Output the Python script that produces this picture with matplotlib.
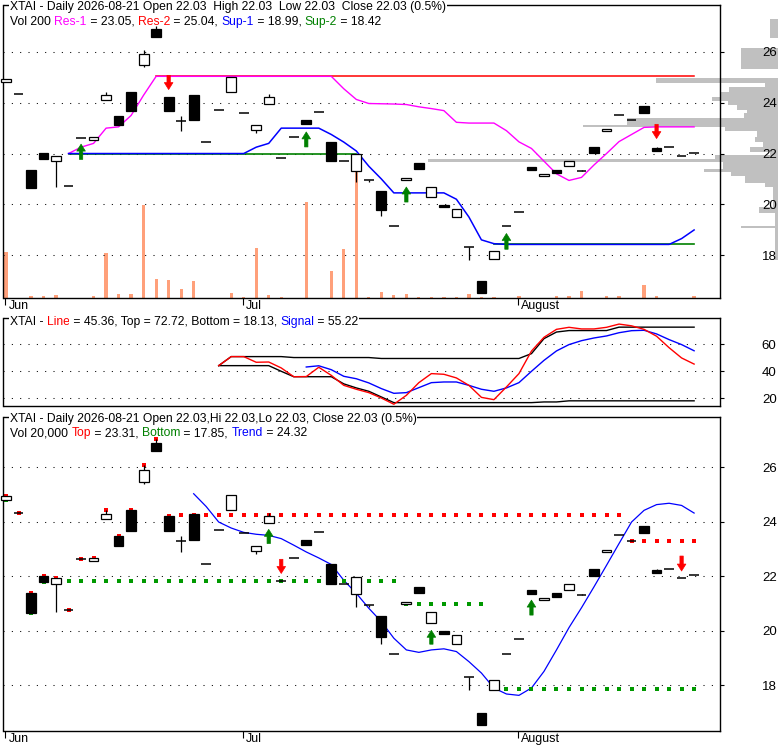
import matplotlib
matplotlib.use('Agg')
import matplotlib.pyplot as plt
import numpy as np
from matplotlib.text import Annotation
from matplotlib.transforms import blended_transform_factory, ScaledTranslation

plt.rcParams['font.family'] = ['Liberation Sans', 'DejaVu Sans']

# ---------------- data ----------------
opens  = [24.80, 24.33, 21.37, 22.02, 21.72, 20.74, 22.63, 22.54, 24.11, 23.49,
          24.44, 25.47, 26.90, 24.22, 23.29, 24.30, 22.46, 23.71, 24.44, 23.60,
          22.93, 23.97, 21.82, 22.65, 23.34, 23.64, 22.46, 21.71, 21.33, 20.95,
          20.53, 19.14, 20.96, 21.61, 20.27, 19.97, 19.50, 18.31, 16.97, 17.83,
          19.14, 19.68, 21.48, 21.12, 21.37, 21.51, 21.30, 22.25, 22.89, 23.50,
          23.31, 23.86, 22.22, 22.26, 21.92, 22.03]
highs  = [24.93, 24.33, 21.37, 22.02, 21.92, 20.74, 22.63, 22.65, 24.42, 23.49,
          24.44, 26.09, 27.04, 24.22, 23.47, 24.30, 22.46, 23.71, 25.00, 23.60,
          23.12, 24.33, 21.82, 22.65, 23.34, 23.64, 22.46, 21.71, 21.98, 20.95,
          20.53, 19.14, 21.04, 21.61, 20.67, 19.97, 19.82, 18.31, 16.97, 18.18,
          19.14, 19.68, 21.48, 21.18, 21.37, 21.70, 21.35, 22.25, 22.98, 23.50,
          23.31, 23.86, 22.27, 22.26, 21.92, 22.03]
lows   = [24.80, 24.33, 20.66, 21.79, 20.69, 20.74, 22.63, 22.54, 24.11, 23.11,
          23.66, 25.40, 26.59, 23.66, 22.89, 23.33, 22.46, 23.71, 24.44, 23.60,
          22.80, 23.97, 21.82, 22.65, 23.15, 23.64, 21.72, 21.71, 20.88, 20.87,
          19.52, 19.14, 20.96, 21.40, 20.27, 19.89, 19.50, 17.80, 16.52, 17.83,
          19.14, 19.68, 21.35, 21.12, 21.24, 21.51, 21.30, 22.01, 22.89, 23.50,
          23.31, 23.59, 22.10, 22.26, 21.92, 22.03]
closes = [24.93, 24.33, 20.66, 21.79, 21.92, 20.74, 22.63, 22.65, 24.30, 23.11,
          23.66, 25.91, 26.59, 23.66, 23.29, 23.33, 22.46, 23.71, 25.00, 23.60,
          23.12, 24.21, 21.82, 22.65, 23.15, 23.64, 21.72, 21.71, 21.98, 20.95,
          19.78, 19.14, 21.04, 21.40, 20.67, 19.89, 19.82, 18.31, 16.52, 18.18,
          19.14, 19.68, 21.35, 21.18, 21.24, 21.70, 21.30, 22.01, 22.98, 23.50,
          23.31, 23.59, 22.10, 22.26, 21.92, 22.03]
volumes = [4600, 0, 200, 200, 300, 0, 0, 200, 4500, 400,
           400, 9300, 1900, 1800, 900, 1700, 0, 0, 500, 100,
           5000, 300, 100, 0, 9600, 0, 2700, 4900, 14300, 100,
           600, 300, 400, 100, 100, 100, 100, 400, 100, 100,
           0, 200, 0, 0, 200, 200, 700, 0, 200, 200,
           0, 1300, 200, 0, 0, 200]

month_pos = [0, 19, 41]
month_labels = ['Jun', 'Jul', 'August']

# resistance / support (top panel)
res1_start = 5
res1 = [22.00, 22.25, 22.40, 23.00, 23.05, 23.50, 24.30, 25.04, 25.04, 25.04,
        25.04, 25.04, 25.04, 25.04, 25.04, 25.04, 25.04, 25.04, 25.04, 25.04,
        25.04, 25.04, 24.55, 24.13, 23.97, 23.96, 23.95, 23.93, 23.84, 23.77,
        23.69, 23.23, 23.20, 23.20, 23.20, 22.90, 22.46, 22.20, 21.70, 21.20,
        20.94, 21.06, 21.55, 22.00, 22.47, 22.75, 23.03, 23.05, 23.05, 23.05, 23.05]
res2_start, res2_end, res2_level = 12, 55, 25.04
sup1_start = 5
sup1 = [22.00, 22.00, 22.00, 22.00, 22.00, 22.00, 22.00, 22.00, 22.00, 22.00,
        22.00, 22.00, 22.00, 22.00, 22.00, 22.25, 22.40, 23.00, 23.00, 23.00,
        23.00, 22.75, 22.45, 22.10, 21.50, 21.00, 20.45, 20.45, 20.45, 20.45,
        20.45, 20.20, 19.50, 18.60, 18.45, 18.42, 18.42, 18.42, 18.42, 18.42,
        18.42, 18.42, 18.42, 18.42, 18.42, 18.42, 18.42, 18.42, 18.42, 18.65, 18.99]
sup2_segments = [(5, 28, 22.00), (39, 55, 18.42)]

top_arrows = [(6, 21.77, 22.37, 'g'), (13, 25.08, 24.52, 'r'), (24, 22.26, 22.85, 'g'),
              (32, 20.09, 20.68, 'g'), (40, 18.23, 18.85, 'g'), (52, 23.15, 22.59, 'r')]

# volume-by-price profile: (low, high, volume)
prof_lo  = [26.56, 25.32, 24.78, 24.62, 24.43, 24.21, 24.07, 23.90, 23.71, 23.58,
            23.38, 23.14, 23.05, 22.89, 22.65, 22.46, 22.26, 22.06, 21.96, 21.80,
            21.67, 21.38, 21.27, 21.10, 20.85, 20.70, 19.90, 19.65, 19.16, 19.06, 17.80]
prof_hi  = [27.28, 26.16, 24.96, 24.78, 24.62, 24.43, 24.21, 24.07, 23.90, 23.71,
            23.58, 23.38, 23.14, 23.05, 22.89, 22.65, 22.46, 22.26, 22.06, 21.96,
            21.80, 21.67, 21.38, 21.27, 21.10, 20.85, 20.70, 19.90, 19.65, 19.16, 19.06]
prof_vol = [8, 37, 122, 13, 49, 58, 66, 50, 41, 31,
            34, 151, 195, 53, 21, 23, 15, 28, 8, 63,
            350, 55, 74, 47, 33, 13, 5, 19, 3, 37, 3]

# middle panel (oscillator)
line_start = 17
line_vals = [44.2, 50.9, 50.9, 46.7, 46.9, 42.5, 36.0, 36.1, 43.0, 37.0,
             29.6, 26.7, 24.2, 20.2, 15.6, 22.2, 31.6, 38.3, 37.8, 35.1,
             29.6, 20.7, 19.0, 28.4, 38.3, 55.0, 65.2, 71.1, 72.6, 71.4,
             71.4, 72.6, 75.0, 73.7, 71.1, 66.0, 57.5, 49.9, 45.36]
osc_top = [44.2, 50.9, 50.9, 50.9, 50.9, 50.9, 50.2, 50.2, 50.2, 50.2,
           50.2, 50.2, 50.2, 49.5, 49.5, 49.5, 49.5, 49.5, 49.5, 49.5,
           49.5, 49.5, 49.5, 49.5, 49.5, 53.1, 64.2, 69.1, 70.2, 70.2,
           70.2, 70.2, 72.72, 72.72, 72.72, 72.72, 72.72, 72.72, 72.72]
osc_bottom = [44.2, 44.2, 44.2, 44.2, 44.2, 40.0, 36.0, 36.0, 36.0, 36.0,
              30.7, 27.7, 25.2, 21.0, 16.8, 16.8, 16.8, 16.8, 16.8, 16.8,
              16.8, 16.8, 16.8, 16.8, 16.8, 16.8, 17.3, 17.3, 18.13, 18.13,
              18.13, 18.13, 18.13, 18.13, 18.13, 18.13, 18.13, 18.13, 18.13]
signal_start = 24
signal_vals = [43.2, 44.1, 41.2, 36.3, 34.5, 31.4, 27.2, 23.7, 24.2, 27.9,
               31.6, 32.1, 32.1, 29.6, 26.7, 25.2, 27.7, 31.6, 40.0, 48.1,
               55.1, 59.8, 62.7, 64.7, 66.2, 68.6, 70.1, 70.4, 67.7, 63.5,
               59.8, 55.22]

# bottom panel
trend_start = 15
trend_vals = [25.03, 24.56, 23.99, 23.77, 23.61, 23.54, 23.50, 23.38, 23.14, 22.89,
              22.67, 22.43, 21.85, 21.37, 20.82, 20.33, 19.72, 19.29, 19.20, 19.29,
              19.33, 19.23, 18.86, 18.44, 17.89, 17.67, 17.62, 17.89, 18.50, 19.29,
              20.11, 20.84, 21.61, 22.40, 23.20, 23.99, 24.42, 24.63, 24.68, 24.60, 24.32]
top_segments = [(14, 49, 24.23), (50, 55, 23.31)]
bottom_segments = [(5, 31, 21.82), (32, 38, 20.96), (39, 55, 17.85)]
early_top_idx = list(range(0, 14))
early_bottom_idx = [0, 2, 3]
bot_arrows = [(21, 23.20, 23.72, 'g'), (22, 22.62, 22.10, 'r'), (34, 19.50, 20.01, 'g'),
              (42, 20.57, 21.12, 'g'), (54, 22.74, 22.19, 'r')]

# ---------------- styling ----------------
W, H = 780, 745
MAG, RED, BLUE, GREEN = '#ff00ff', '#ff0000', '#0000ff', '#008000'
DOTG = '#009900'
GREY = '#c0c0c0'
VOLC = '#ffa07a'
TXT = '#000000'
XL = (-0.2, 57.03)
PY = (16.31, 27.85)
OY = (14.3, 79.5)

fig = plt.figure(figsize=(W / 100, H / 100), dpi=100)
fig.patch.set_facecolor('white')


def rect(y0, y1, x0=3.5, x1=719.5):
    return [x0 / W, 1 - y1 / H, (x1 - x0) / W, (y1 - y0) / H]


x = np.arange(len(closes))
o = np.array(opens); h = np.array(highs); l = np.array(lows); c = np.array(closes)


def style_price_axis(ax, yt, ylim):
    ax.set_xlim(*XL)
    ax.set_ylim(*ylim)
    ax.set_facecolor('none')
    ax.set_yticks(yt)
    ax.yaxis.tick_right()
    ax.tick_params(axis='y', length=3, width=0.8, pad=27.5, labelsize=9.5,
                   direction='out', colors=TXT)
    ax.grid(axis='y', color='black', linestyle=(0, (1, 7)), linewidth=0.75)
    ax.set_axisbelow(True)
    for s in ax.spines.values():
        s.set_linewidth(1.0)
        s.set_color('black')


def month_axis(ax):
    ax.set_xticks([p - 0.08 for p in month_pos])
    ax.tick_params(axis='x', length=5, width=0.8, direction='out', labelbottom=False)
    tr = blended_transform_factory(ax.transData, ax.transAxes)
    off = ScaledTranslation(2.5 / 100, -11 / 100, fig.dpi_scale_trans)
    for p, lab in zip(month_pos, month_labels):
        ax.text(p, 0, lab, transform=tr + off, ha='left', va='baseline',
                fontsize=9, color=TXT)


def candles(ax):
    ax.vlines(x, l, h, color='black', lw=0.9, zorder=3, clip_on=False)
    up = c > o
    dn = c < o
    eq = c == o
    ax.bar(x[up], (c - o)[up], bottom=o[up], width=0.78, facecolor='white',
           edgecolor='black', lw=0.9, zorder=4, clip_on=False)
    ax.bar(x[dn], (o - c)[dn], bottom=c[dn], width=0.78, facecolor='black',
           edgecolor='black', lw=0.9, zorder=4, clip_on=False)
    ax.hlines(o[eq], x[eq] - 0.39, x[eq] + 0.39, color='black', lw=1.1, zorder=4)


def arrows(ax, items):
    for i, tail, tip, col in items:
        colr = GREEN if col == 'g' else RED
        ax.annotate('', xy=(i, tip), xytext=(i, tail),
                    arrowprops=dict(arrowstyle='simple,head_length=0.5,head_width=0.62,tail_width=0.24',
                                    fc=colr, ec=colr, lw=0.5, shrinkA=0, shrinkB=0,
                                    mutation_scale=10), zorder=6)


def rich(x_px, y_px, pieces, size=8.7, bg=False):
    prev = None
    for s, col in pieces:
        kw = dict(color=col, fontsize=size, ha='left')
        if bg:
            kw['bbox'] = dict(boxstyle='square,pad=0.05', fc='white', ec='none')
        if prev is None:
            t = fig.text(x_px / W, 1 - y_px / H, s, va='baseline', zorder=10, **kw)
        else:
            t = Annotation(s, xy=(1, 0), xycoords=prev, va='bottom', **kw)
            t.set_zorder(10)
            fig.add_artist(t)
        prev = t


# ---------------- top panel ----------------
axp = fig.add_axes(rect(5, 298, 0, 778), zorder=0)
pm = (np.array(prof_lo) + np.array(prof_hi)) / 2
ph = np.array(prof_hi) - np.array(prof_lo)
axp.barh(pm, prof_vol, height=ph, left=0, color=GREY, linewidth=0)
axp.set_xlim(778, 0)
axp.set_ylim(*PY)
axp.axis('off')

axv = fig.add_axes(rect(5, 298), zorder=0.5)
axv.bar(x, volumes, width=0.26, color=VOLC, linewidth=0)
axv.set_xlim(*XL)
axv.set_ylim(0, 29300)
axv.axis('off')

ax1 = fig.add_axes(rect(5, 298), zorder=1)
style_price_axis(ax1, [18, 20, 22, 24, 26], PY)
month_axis(ax1)
ax1.plot([res2_start, res2_end], [res2_level, res2_level], color=RED, lw=1.1, zorder=2)
xr = np.arange(res1_start, res1_start + len(res1))
ax1.plot(xr, res1, color=MAG, lw=1.0, zorder=2.1)
for s0, s1, lev in sup2_segments:
    ax1.plot([s0, s1], [lev, lev], color=GREEN, lw=1.2, zorder=2)
xs = np.arange(sup1_start, sup1_start + len(sup1))
ax1.plot(xs, sup1, color=BLUE, lw=1.1, zorder=2.1)
candles(ax1)
arrows(ax1, top_arrows)

# ---------------- middle panel ----------------
ax2 = fig.add_axes(rect(318, 406), zorder=1)
ax2.set_xlim(*XL)
ax2.set_ylim(*OY)
ax2.set_yticks([20, 40, 60])
ax2.yaxis.tick_right()
ax2.tick_params(axis='y', length=3, width=0.8, pad=27.5, labelsize=9.5, direction='out')
ax2.grid(axis='y', color='black', linestyle=(0, (1, 7)), linewidth=0.75)
ax2.set_axisbelow(True)
ax2.set_xticks([])
for s in ax2.spines.values():
    s.set_linewidth(1.0)
xl = np.arange(line_start, line_start + len(line_vals))
ax2.plot(xl, osc_top, color='black', lw=1.0)
ax2.plot(xl, osc_bottom, color='black', lw=1.0)
xsg = np.arange(signal_start, signal_start + len(signal_vals))
ax2.plot(xsg, signal_vals, color=BLUE, lw=1.0)
ax2.plot(xl, line_vals, color=RED, lw=1.0)

# ---------------- bottom panel ----------------
ax3 = fig.add_axes(rect(417, 731), zorder=1)
style_price_axis(ax3, [18, 20, 22, 24, 26], PY)
month_axis(ax3)
xt = np.arange(trend_start, trend_start + len(trend_vals))
ax3.plot(xt, trend_vals, color=BLUE, lw=0.9, zorder=2)
for s0, s1, lev in top_segments:
    xx = np.arange(s0, s1 + 1)
    ax3.plot(xx, [lev] * len(xx), 's', color=RED, ms=2.3, mew=0, zorder=2.5)
for s0, s1, lev in bottom_segments:
    xx = np.arange(s0, s1 + 1)
    ax3.plot(xx, [lev] * len(xx), 's', color=DOTG, ms=2.3, mew=0, zorder=2.5)
ax3.plot(x[early_top_idx], h[early_top_idx], 's', color=RED, ms=2.3, mew=0, zorder=2.5)
ax3.plot(x[early_bottom_idx], l[early_bottom_idx], 's', color=DOTG, ms=2.3, mew=0, zorder=2.5)
candles(ax3)
arrows(ax3, bot_arrows)

# ---------------- titles ----------------
rich(10, 10, [("XTAI - Daily 2026-08-21 Open 22.03  High 22.03  Low 22.03  Close 22.03 (0.5%)", TXT)], bg=True)
rich(10, 25, [("Vol 200 ", TXT), ("Res-1", MAG), (" = 23.05, ", TXT), ("Res-2", RED),
              (" = 25.04, ", TXT), ("Sup-1", BLUE), (" = 18.99, ", TXT), ("Sup-2", GREEN),
              (" = 18.42", TXT)])
rich(10, 325, [("XTAI - ", TXT), ("Line", RED), (" = 45.36, Top = 72.72, Bottom = 18.13, ", TXT),
               ("Signal", BLUE), (" = 55.22", TXT)], bg=True)
rich(10, 422, [("XTAI - Daily 2026-08-21 Open 22.03,Hi 22.03,Lo 22.03, Close 22.03 (0.5%)", TXT)], bg=True)
rich(10, 436, [("Vol 20,000 ", TXT), ("Top", RED), (" = 23.31, ", TXT), ("Bottom", GREEN),
               (" = 17.85, ", TXT), ("Trend", BLUE), (" = 24.32", TXT)])

fig.savefig('out.png', dpi=100, facecolor='white')
